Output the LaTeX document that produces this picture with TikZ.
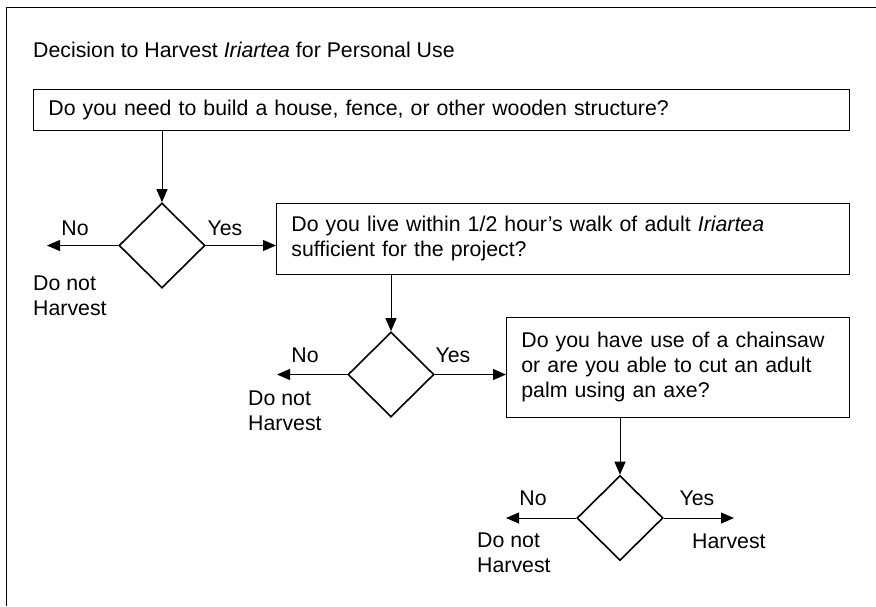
\documentclass[tikz,border=0pt]{standalone}
\usepackage{fontspec}
\setmainfont{Liberation Sans}
\usepackage{tikz}
\usetikzlibrary{shapes.geometric, arrows.meta, positioning}

\tikzset{
  question/.style={draw, line width=0.8pt, anchor=north west, align=left,
    inner xsep=15pt, inner ysep=0pt, font=\fontsize{21.3}{25}\selectfont},
  decision/.style={draw, diamond, line width=1.6pt, inner sep=0pt,
    minimum width=86pt, minimum height=85pt},
  flow/.style={line width=1pt, -{Triangle[length=13pt, width=11pt]}},
  answer/.style={inner sep=0pt, align=left, font=\fontsize{21.3}{25}\selectfont}
}

\begin{document}
\begin{tikzpicture}[x=1pt, y=-1pt]

      % Page size and frame
      \useasboundingbox (0,0) rectangle (876,606);
      \draw[line width=1pt] (876,7) -- (6,7) -- (6,606);

      % Title
      \node[answer, anchor=west] (title) at (33,50)
        {Decision to Harvest \textit{Iriartea} for Personal Use};

      % Question boxes
      \node[question, minimum width=816pt, minimum height=41pt, text width=786pt] (q1) at (33,89)
        {Do you need to build a house, fence, or other wooden structure?};
      \node[question, minimum width=573pt, minimum height=71pt, text width=543pt] (q2) at (276,203)
        {Do you live within 1/2 hour's walk of adult \textit{Iriartea}\\ sufficient for the project?};
      \node[question, minimum width=343pt, minimum height=100pt, text width=313pt] (q3) at (506,317)
        {Do you have use of a chainsaw\\ or are you able to cut an adult\\ palm using an axe?};

      % Decisions
      \node[decision] (d1) at (162,245.5) {};
      \node[decision] (d2) at (391,374.5) {};
      \node[decision] (d3) at (620,518) {};

      % Free ends of the arrows
      \coordinate (no1) at (47,245.5);
      \coordinate (no2) at (277,374.5);
      \coordinate (no3) at (506,518);
      \coordinate (yes3) at (734,518);

      % Arrows
      \draw[flow] (q1.south -| d1) -- (d1.north);
      \draw[flow] (q2.south -| d2) -- (d2.north);
      \draw[flow] (q3.south -| d3) -- (d3.north);
      \draw[flow] (d1.east) -- (d1.east -| q2.west);
      \draw[flow] (d2.east) -- (d2.east -| q3.west);
      \draw[flow] (d3.east) -- (yes3);
      \draw[flow] (d1.west) -- (no1);
      \draw[flow] (d2.west) -- (no2);
      \draw[flow] (d3.west) -- (no3);

      % Labels
      \node[answer] (n1) at (75,228) {No};
      \node[answer] (y1) at (225,228) {Yes};
      \node[answer] (n2) at (305,355) {No};
      \node[answer] (y2) at (453,355) {Yes};
      \node[answer] (n3) at (533,498) {No};
      \node[answer] (y3) at (697,498) {Yes};

      \node[answer, anchor=west] (h1) at (33,295.5) {Do not\\Harvest};
      \node[answer, anchor=west] (h2) at (248,411) {Do not\\Harvest};
      \node[answer, anchor=west] (h3) at (477,552.5) {Do not\\Harvest};
      \node[answer, anchor=west] (h4) at (692,541) {Harvest};

\end{tikzpicture}
\end{document}
